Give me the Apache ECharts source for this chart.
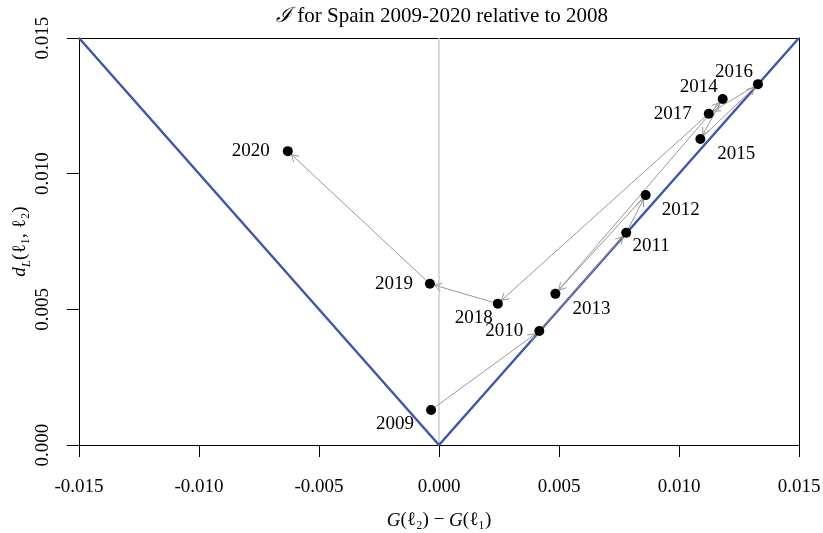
<!DOCTYPE html>
<html>
<head>
<meta charset="utf-8">
<script src="https://cdn.jsdelivr.net/npm/echarts@6/dist/echarts.min.js"></script>
<style>
  html, body { margin: 0; padding: 0; background: #fff; }
  #chart { width: 823px; height: 533px; }
</style>
</head>
<body>
<div id="chart"></div>
<script>
// Inequality index for Spain, each year relative to 2008
const years = ['2009', '2010', '2011', '2012', '2013', '2014', '2015', '2016', '2017', '2018', '2019', '2020'];
// G(l2) - G(l1)
const giniDiff = [-0.00033, 0.00418, 0.00780, 0.00861, 0.00485, 0.01182, 0.01089, 0.01329, 0.01124, 0.00245, -0.00038, -0.00630];
// d_L(l1, l2)
const lorenzDist = [0.00129, 0.00420, 0.00782, 0.00921, 0.00557, 0.01275, 0.01128, 0.01330, 0.01221, 0.00521, 0.00594, 0.01083];
// Boundary of the feasible region |G(l2) - G(l1)| <= d_L
const boundaryX = [-0.015, 0, 0.015];
const boundaryY = [0.015, 0, 0.015];
const xTicks = [-0.015, -0.010, -0.005, 0.000, 0.005, 0.010, 0.015];
const yTicks = [0.000, 0.005, 0.010, 0.015];

// Label placement for each year, in pixels from the point
const labelOffsets = [[-36, 14], [-35, 0], [25, 13], [35, 15], [36, 15], [-24, -12], [36, 15], [-24, -12], [-36, 0], [-24, 14], [-36, 0], [-37, 0]];

const FONT = '"Liberation Serif", "DejaVu Serif", serif';

const points = years.map((y, i) => ({
  value: [giniDiff[i], lorenzDist[i]],
  name: y,
  label: { offset: labelOffsets[i] }
}));

const segments = [];
for (let i = 0; i < years.length - 1; i++) {
  segments.push([giniDiff[i], lorenzDist[i], giniDiff[i + 1], lorenzDist[i + 1]]);
}

function renderArrow(params, api) {
  const a = api.coord([api.value(0), api.value(1)]);
  const b = api.coord([api.value(2), api.value(3)]);
  const dx = b[0] - a[0], dy = b[1] - a[1];
  const len = Math.sqrt(dx * dx + dy * dy);
  const ux = dx / len, uy = dy / len;
  const tip = [b[0] - ux * 5, b[1] - uy * 5];
  const head = 8, ang = Math.PI / 6;
  const base = Math.atan2(-uy, -ux);
  const h1 = [tip[0] + head * Math.cos(base + ang), tip[1] + head * Math.sin(base + ang)];
  const h2 = [tip[0] + head * Math.cos(base - ang), tip[1] + head * Math.sin(base - ang)];
  const style = { stroke: '#999999', lineWidth: 1, fill: null };
  return {
    type: 'group',
    children: [
      { type: 'line', shape: { x1: a[0], y1: a[1], x2: tip[0], y2: tip[1] }, style: style },
      { type: 'polyline', shape: { points: [h1, tip, h2] }, style: style }
    ]
  };
}

const frameAxis = {
  axisLine: { show: true, onZero: false, lineStyle: { color: '#000', width: 1 } },
  axisTick: { show: false },
  axisLabel: { show: false },
  splitLine: { show: false }
};

const chart = echarts.init(document.getElementById('chart'), null, { renderer: 'canvas' });
chart.setOption({
  animation: false,
  backgroundColor: '#fff',
  title: {
    text: '{cal|ℐ} for Spain 2009-2020 relative to 2008',
    left: 271,
    top: 1,
    textStyle: {
      fontFamily: FONT, fontSize: 21, fontWeight: 'normal', color: '#000',
      rich: { cal: { fontFamily: '"DejaVu Serif", serif', fontStyle: 'italic', fontSize: 21, color: '#000' } }
    }
  },
  grid: {
    left: 79, right: 24, top: 38, bottom: 88,
    containLabel: false,
    outerBoundsMode: 'none'
  },
  xAxis: [{
    type: 'value',
    min: -0.015, max: 0.015, interval: 0.005,
    position: 'bottom',
    name: '{i|G}(ℓ₂) − {i|G}(ℓ₁)',
    nameLocation: 'middle',
    nameGap: 66,
    nameTextStyle: {
      fontFamily: FONT, fontSize: 19, color: '#000',
      rich: { i: { fontFamily: FONT, fontStyle: 'italic', fontSize: 19, color: '#000' } }
    },
    axisLine: { show: true, onZero: false, lineStyle: { color: '#000', width: 1 } },
    axisTick: { show: true, length: 12, lineStyle: { color: '#000' } },
    axisLabel: {
      margin: 33, color: '#000', fontFamily: FONT, fontSize: 19,
      formatter: v => v.toFixed(3),
      customValues: xTicks
    },
    splitLine: { show: false }
  }, Object.assign({ type: 'value', min: -0.015, max: 0.015, position: 'top' }, frameAxis)],
  yAxis: [{
    type: 'value',
    min: 0, max: 0.015, interval: 0.005,
    position: 'left',
    name: '{i|d}{sub|L}(ℓ₁, ℓ₂)',
    nameLocation: 'middle',
    nameRotate: 90,
    nameGap: 46,
    nameMoveOverlap: false,
    nameTextStyle: {
      fontFamily: FONT, fontSize: 19, color: '#000', lineHeight: 26,
      rich: {
        i: { fontFamily: FONT, fontStyle: 'italic', fontSize: 19, color: '#000', lineHeight: 26 },
        sub: { fontFamily: FONT, fontStyle: 'italic', fontSize: 13, color: '#000', verticalAlign: 'bottom', lineHeight: 26 }
      }
    },
    axisLine: { show: true, onZero: false, lineStyle: { color: '#000', width: 1 } },
    axisTick: { show: true, length: 12, lineStyle: { color: '#000' } },
    axisLabel: {
      margin: 26, rotate: 90, color: '#000', fontFamily: FONT, fontSize: 19,
      formatter: v => v.toFixed(3),
      customValues: yTicks
    },
    splitLine: { show: false }
  }, Object.assign({ type: 'value', min: 0, max: 0.015, position: 'right' }, frameAxis)],
  series: [
    {
      // vertical reference line at zero difference
      type: 'line',
      data: [[0, 0], [0, 0.015]],
      symbol: 'none',
      lineStyle: { color: '#cccccc', width: 1.5 },
      silent: true,
      z: 1
    },
    {
      type: 'line',
      data: boundaryX.map((x, i) => [x, boundaryY[i]]),
      symbol: 'none',
      lineStyle: { color: '#4257a6', width: 2.5 },
      silent: true,
      z: 2
    },
    {
      type: 'custom',
      renderItem: renderArrow,
      data: segments,
      encode: { x: [0, 2], y: [1, 3] },
      silent: true,
      z: 3
    },
    {
      type: 'scatter',
      data: points,
      symbol: 'circle',
      symbolSize: 10,
      itemStyle: { color: '#000', opacity: 1 },
      label: {
        show: true,
        position: 'inside',
        formatter: p => p.name,
        color: '#000',
        opacity: 1,
        fontFamily: FONT,
        fontSize: 19,
        align: 'center',
        verticalAlign: 'middle'
      },
      z: 4
    }
  ]
});
</script>
</body>
</html>
